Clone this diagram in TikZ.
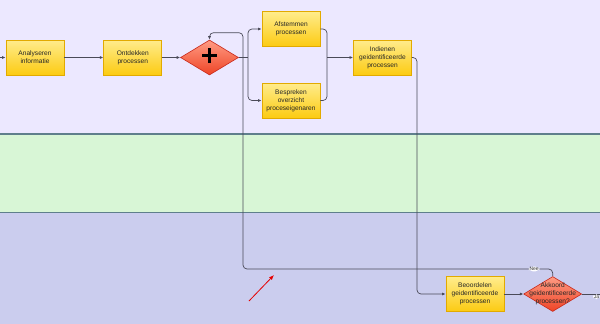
\documentclass[tikz,border=0pt]{standalone}
\usepackage{fontspec}
\setmainfont{Liberation Sans}
\usepackage{tikz}
\usetikzlibrary{positioning,arrows.meta,shapes.geometric}
\usepackage{xcolor}
\definecolor{laneone}{HTML}{ECE8FF}
\definecolor{lanetwo}{HTML}{D8F6D6}
\definecolor{lanethree}{HTML}{CBCDEE}
\definecolor{laneline}{HTML}{5F7F8C}
\definecolor{tasktop}{HTML}{FFEC8C}
\definecolor{taskfill}{HTML}{FCCB12}
\definecolor{taskborder}{HTML}{E2AA00}
\definecolor{gwtop}{HTML}{FF9C84}
\definecolor{gwfill}{HTML}{EE4426}
\definecolor{gwborder}{HTML}{C8281A}
\definecolor{flowgray}{HTML}{4A4A58}

\begin{document}
\begin{tikzpicture}[
      x=1pt, y=-1pt,
      task/.style={draw=taskborder, line width=0.8pt, top color=tasktop, bottom color=taskfill,
        minimum width=58pt, minimum height=35pt, inner sep=1pt, align=center,
        font=\fontsize{6.6}{7.9}\selectfont, text=black!85},
      gate/.style={diamond, draw=gwborder, line width=0.6pt, top color=gwtop, bottom color=gwfill,
        minimum width=58pt, minimum height=35pt, inner sep=0pt},
      line/.style={draw=flowgray, line width=0.7pt, rounded corners=4pt},
      flow/.style={line, -{Latex[length=3.5pt,width=3pt]}},
      tag/.style={fill=white, inner sep=0.6pt, font=\fontsize{5}{5}\selectfont, text=black!80}
    ]
      \useasboundingbox (0,0) rectangle (600,324);
      \clip (0,0) rectangle (600,324);
      % lanes
      \fill[laneone] (0,0) rectangle (600,134);
      \fill[lanetwo] (0,134) rectangle (600,212.5);
      \fill[lanethree] (0,212.5) rectangle (600,324);
      \draw[laneline, line width=1.2pt] (0,134) -- (600,134);
      \draw[laneline, line width=1.2pt] (0,212.5) -- (600,212.5);

      \node[task] (analyse) at (35,57.5) {Analyseren\\informatie};
      \node[task, right=39pt of analyse] (ontdek) {Ontdekken\\processen};
      \node[gate, right=18pt of ontdek] (split) {};
      \draw[line width=3.6pt] ([xshift=-7.5pt,yshift=2pt]split.center) -- ([xshift=7.5pt,yshift=2pt]split.center);
      \draw[line width=3.6pt] ([yshift=-5.5pt]split.center) -- ([yshift=9.5pt]split.center);
      \node[task] (afstem) at (291,29) {Afstemmen\\processen};
      \node[task] (bespreek) at (291,100.5) {Bespreken\\overzicht\\proceseigenaren};
      \node[task] (indien) at (382.5,57.5) {Indienen\\geidentificeerde\\processen};
      \node[task] (beoordeel) at (475,294) {Beoordelen\\geidentificeerde\\processen};
      \node[gate, right=19pt of beoordeel,
        label={[align=center, font=\fontsize{6.6}{7.9}\selectfont, text=black!85]center:Akkoord\\geidentificeerde\\processen?}] (akkoord) {};

      \coordinate (start) at (0,57.5);
      \coordinate (fork) at (248,57.5);
      \coordinate (join) at (327,57.5);
      \coordinate (drop) at (417,57.5);
      \coordinate (back) at (243,269);
      \coordinate (end) at (600,294);

      \draw[flow] (start) -- (analyse);
      \draw[flow] (analyse) -- (ontdek);
      \draw[flow] (ontdek) -- (split);
      \draw[line] (split) -- (fork);
      \draw[flow] (fork) |- (afstem);
      \draw[flow] (fork) |- (bespreek);
      \draw[line] (afstem) -| (join);
      \draw[line] (bespreek) -| (join);
      \draw[flow] (join) -- (indien);
      \draw[flow] (indien) -- (drop) |- (beoordeel);
      \draw[flow] (beoordeel) -- (akkoord);
      \draw[line] (akkoord) -- node[tag, pos=1, anchor=north east] {Ja} (end);
      \draw[flow] (akkoord.north) |- node[tag, pos=0.53] {Nee} (back)
        |- ([yshift=7pt]split.north) -- (split.north);

      % annotation
      \coordinate (hintA) at (249,301);
      \coordinate (hintB) at (274,275);
      \draw[red!90!black, line width=0.8pt, -{Latex[length=5pt,width=4pt]}] (hintA) -- (hintB);
    \end{tikzpicture}
\end{document}
